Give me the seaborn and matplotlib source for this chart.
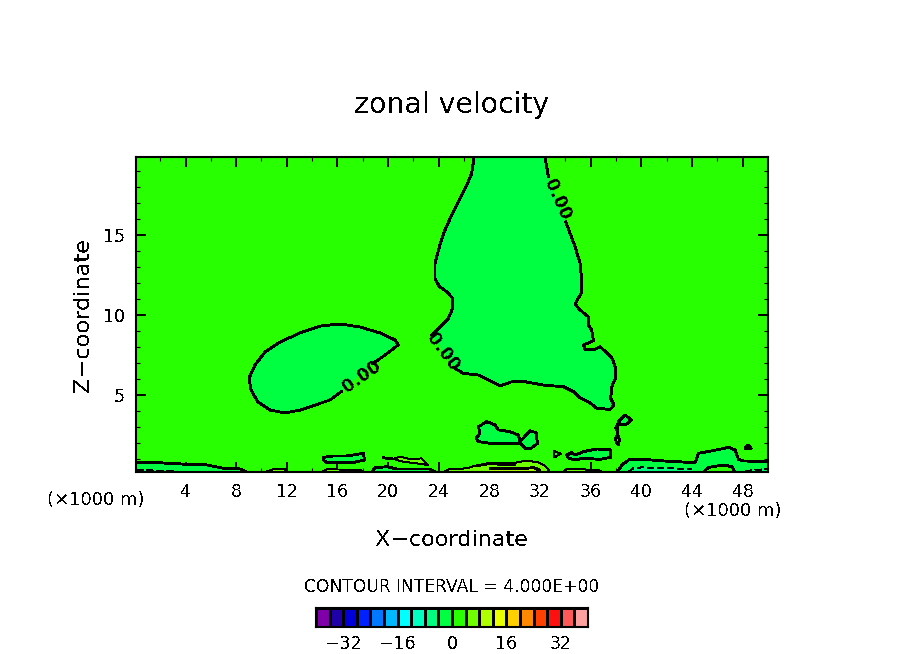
import matplotlib
matplotlib.use('Agg')
import matplotlib.pyplot as plt
from matplotlib.colors import ListedColormap
import numpy as np
import seaborn as sns

sns.set_style('white')
plt.rcParams['font.family'] = ['DejaVu Sans']
plt.rcParams['axes.unicode_minus'] = True
plt.rcParams['text.antialiased'] = False
plt.rcParams['text.color'] = 'black'
plt.rcParams['xtick.color'] = 'black'
plt.rcParams['ytick.color'] = 'black'

# colour scale, one colour per 4 m/s interval
bar_levels = [-38, -34, -30, -26, -22, -18, -14, -10, -6, -2, 2, 6, 10, 14, 18, 22, 26, 30, 34, 38]
bar_colors = ['#7f00a8', '#2000a8', '#0000d8', '#0020ff', '#0078ff', '#00b8ff', '#00ffff',
              '#00ffc0', '#00ff80', '#00ff40', '#28ff00', '#70ff00', '#b0ff00', '#e8ff00',
              '#ffd000', '#ff8800', '#ff4000', '#ff1010', '#ff5858', '#ffa0a0']
bar_ticks = [-32, -16, 0, 16, 32]

x_major = [4, 8, 12, 16, 20, 24, 28, 32, 36, 40, 44, 48]
x_minor = [2, 6, 10, 14, 18, 22, 26, 30, 34, 38, 42, 46]
z_major = [5, 10, 15]
z_minor = [1, 2, 3, 4, 6, 7, 8, 9, 11, 12, 13, 14, 16, 17, 18, 19]

# big zero contour, three pieces split by the labels
big_a_x = [26.79, 26.60, 26.21, 25.63, 25.02, 24.49, 24.05, 23.70, 23.70, 24.05, 24.63, 25.10, 25.10, 24.76, 24.23, 23.44]
big_a_z = [19.875, 18.85, 18.12, 17.19, 16.25, 15.31, 14.27, 13.23, 12.29, 11.77, 11.46, 11.04, 10.42, 9.79, 9.37, 8.75]
big_b_x = [25.28, 25.94, 27.13, 27.92, 28.84, 29.76, 30.81, 32.26, 33.84, 34.63, 35.16, 35.82, 36.47, 37.53, 37.84, 37.58,
           37.66, 38.00, 37.92, 37.66, 36.74, 36.21, 35.55, 35.42, 36.21, 36.08, 35.82, 35.82, 35.16, 34.76, 35.24, 35.29,
           35.16, 34.76, 34.37, 34.03]
big_b_z = [6.67, 6.35, 6.25, 5.94, 5.58, 5.83, 5.83, 5.62, 5.52, 5.21, 4.83, 4.58, 4.17, 4.10, 4.37, 4.79,
           5.52, 6.15, 6.77, 7.35, 8.02, 7.81, 7.87, 8.12, 8.40, 9.06, 9.37, 9.89, 10.31, 10.69, 11.35, 12.19,
           13.23, 14.27, 15.10, 15.83]
big_c_x = [32.66, 32.39]
big_c_z = [18.64, 19.875]

# blob at x=9..21, open where its label sits
blob_x = [16.36, 15.41, 13.04, 11.86, 10.67, 9.73, 9.17, 9.02, 9.49, 10.28, 11.46, 13.04, 14.62, 16.20, 17.78, 19.36, 20.55, 20.79, 19.76, 18.73]
blob_z = [5.25, 4.69, 4.06, 3.88, 4.06, 4.56, 5.31, 6.06, 6.88, 7.69, 8.31, 8.88, 9.31, 9.44, 9.25, 8.88, 8.44, 8.13, 7.50, 6.94]

# closed negative patches
patch1_x = [14.89, 15.68, 16.73, 18.05, 18.13, 17.26, 15.95, 15.15, 14.89]
patch1_z = [1.11, 1.19, 1.19, 1.36, 0.94, 0.79, 0.77, 0.77, 0.94]
patch2_x = [27.13, 27.79, 28.44, 28.71, 29.63, 30.29, 30.42, 31.21, 31.68, 31.79, 31.21, 30.81, 30.42, 29.37, 28.05, 27.13, 26.94, 27.26]
patch2_z = [3.02, 3.34, 3.13, 2.82, 2.71, 2.50, 2.09, 2.77, 2.65, 1.98, 1.63, 1.67, 1.98, 1.98, 1.98, 2.09, 2.29, 2.61]
patch3_x = [34.11, 34.50, 34.76, 35.42, 36.48, 37.53, 37.58, 36.74, 35.42, 34.76, 34.24]
patch3_z = [1.25, 1.40, 1.25, 1.46, 1.63, 1.57, 1.11, 0.98, 1.05, 0.94, 1.05]
patch4_x = [38.19, 38.71, 39.24, 38.84, 38.37]
patch4_z = [3.34, 3.75, 3.44, 3.19, 3.13]
patch5_x = [37.98, 38.13, 38.27, 38.19, 38.00]
patch5_z = [2.29, 2.54, 2.23, 1.88, 2.09]
speck1_x = [37.98, 38.13, 38.13]
speck1_z = [2.92, 3.19, 2.67]
speck2_x = [48.19, 48.40, 48.67]
speck2_z = [1.67, 1.88, 1.67]

# negative areas resting on the ground
ground_l_x = [0.09, 1.46, 2.78, 4.10, 5.68, 6.99, 8.31, 8.78]
ground_l_z = [0.79, 0.79, 0.73, 0.67, 0.63, 0.42, 0.38, 0.19]
ground_m_x = [18.70, 18.96, 19.89, 20.68, 23.31, 23.70]
ground_m_z = [0.19, 0.46, 0.52, 0.38, 0.38, 0.19]
ground_r_x = [38.13, 38.45, 39.11, 40.16, 41.74, 44.24, 44.51, 45.95, 46.88, 47.40, 47.67, 48.06, 50.00]
ground_r_z = [0.19, 0.63, 1.00, 0.98, 0.88, 0.77, 1.36, 1.57, 1.73, 1.57, 0.98, 0.88, 0.84]
ground_in_x = [44.90, 45.30, 46.50, 47.14, 47.40]
ground_in_z = [0.19, 0.48, 0.63, 0.52, 0.19]

# dashed -4 contours
dash_l_x = [0.15, 3.04]
dash_l_z = [0.31, 0.25]
dash_m_x = [38.98, 39.37, 40.03, 43.98]
dash_m_z = [0.21, 0.42, 0.48, 0.38]
dash_r_x = [48.19, 49.90]
dash_r_z = [0.25, 0.38]

# positive patches, thin outlines
pos1_x = [10.28, 10.94, 11.86, 11.99]
pos1_z = [0.19, 0.36, 0.36, 0.19]
pos2_x = [14.76, 15.15, 17.79, 18.05]
pos2_z = [0.19, 0.36, 0.32, 0.19]
pos3_x = [20.41, 20.94, 21.20, 21.73, 22.65, 23.18, 22.26, 21.20]
pos3_z = [1.00, 1.15, 1.10, 1.00, 1.04, 0.62, 0.73, 0.83]
pos4_x = [24.36, 24.76, 26.20, 26.86, 27.79, 29.89, 30.68, 31.73, 32.39, 32.79]
pos4_z = [0.19, 0.35, 0.42, 0.58, 0.73, 0.73, 0.88, 0.83, 0.58, 0.19]
pos5_x = [28.05, 28.05, 30.94, 32.00, 32.00]
pos5_z = [0.19, 0.46, 0.46, 0.30, 0.19]
pos6_x = [33.80, 34.10, 35.30, 36.60, 37.00]
pos6_z = [0.19, 0.36, 0.36, 0.30, 0.19]
tri_x = [33.13, 33.63, 33.13]
tri_z = [1.50, 1.32, 1.11]
tail_x = [19.62, 20.41]
tail_z = [1.08, 1.00]
band_a_x = [27.10, 27.90, 30.00]
band_a_z = [0.60, 0.70, 0.66]
band_b_x = [28.05, 30.50, 31.50, 32.00]
band_b_z = [0.40, 0.40, 0.46, 0.30]

c_zero = '#28ff00'
c_m4 = '#00ff40'
c_m8 = '#00ff80'
c_p4 = '#70ff00'
c_p8 = '#b0ff00'

fig = plt.figure(figsize=(9.04, 6.54), dpi=100)
ax = fig.add_axes([136 / 904, 1 - 472 / 654, 632 / 904, 315 / 654])
ax.set_facecolor(c_zero)


def line(xs, zs, lw=1.35, ls='-', closed=False):
    xs, zs = list(xs), list(zs)
    if closed:
        xs, zs = xs + xs[:1], zs + zs[:1]
    sns.lineplot(x=xs, y=zs, sort=False, estimator=None, errorbar=None, color='black',
                 linewidth=lw, linestyle=ls, antialiased=False, ax=ax, legend=False)


# filled bands first
ax.fill(big_a_x + big_b_x + big_c_x, big_a_z + big_b_z + big_c_z, color=c_m4, lw=0)
ax.fill(blob_x, blob_z, color=c_m4, lw=0)
for px, pz in [(patch1_x, patch1_z), (patch2_x, patch2_z), (patch3_x, patch3_z), (patch4_x, patch4_z),
               (patch5_x, patch5_z), (ground_l_x + [0.09], ground_l_z + [0.19]), (ground_m_x, ground_m_z),
               (ground_r_x + [50.0], ground_r_z + [0.19])]:
    ax.fill(px, pz, color=c_m4, lw=0)
ax.fill(ground_in_x, ground_in_z, color=c_zero, lw=0)
ax.fill(dash_l_x + [3.04, 0.15], dash_l_z + [0.19, 0.19], color=c_m8, lw=0)
ax.fill(dash_m_x + [43.98], dash_m_z + [0.19], color=c_m8, lw=0)
ax.fill(dash_r_x + [49.90, 48.19], dash_r_z + [0.19, 0.19], color=c_m8, lw=0)
for px, pz in [(pos1_x, pos1_z), (pos2_x, pos2_z), (pos3_x, pos3_z), (pos4_x, pos4_z), (pos6_x, pos6_z)]:
    ax.fill(px, pz, color=c_p4, lw=0)
ax.fill(pos5_x, pos5_z, color=c_p8, lw=0)

# contour lines
line(big_a_x, big_a_z)
line(big_b_x, big_b_z)
line(big_c_x, big_c_z)
line(blob_x, blob_z)
for px, pz in [(patch1_x, patch1_z), (patch2_x, patch2_z), (patch3_x, patch3_z), (patch4_x, patch4_z),
               (patch5_x, patch5_z), (speck1_x, speck1_z), (speck2_x, speck2_z)]:
    line(px, pz, closed=True)
ax.fill(speck1_x, speck1_z, color='black', lw=0)
ax.fill(speck2_x, speck2_z, color='black', lw=0)
line(ground_l_x, ground_l_z)
line(ground_m_x, ground_m_z)
line(ground_r_x, ground_r_z)
line(ground_in_x, ground_in_z)
line(tail_x, tail_z)
line(band_a_x, band_a_z)
line(band_b_x, band_b_z)
for dx, dz in [(dash_l_x, dash_l_z), (dash_m_x, dash_m_z), (dash_r_x, dash_r_z)]:
    line(dx, dz, lw=0.8, ls=(0, (6, 3)))
for px, pz in [(pos1_x, pos1_z), (pos2_x, pos2_z), (pos4_x, pos4_z), (pos6_x, pos6_z)]:
    line(px, pz, lw=0.7)
line(pos3_x, pos3_z, lw=0.7, closed=True)
line(tri_x, tri_z, lw=0.8, closed=True)

# contour labels
label_font = dict(ha='center', va='center', fontsize=12.5, fontweight='bold', rotation_mode='anchor')
ax.text(33.37, 17.2, '0.00', rotation=-66, **label_font)
ax.text(24.36, 7.71, '0.00', rotation=-53, **label_font)
ax.text(17.94, 6.17, '0.00', rotation=35, **label_font)

ax.set_xlim(0.09, 50.0)
ax.set_ylim(0.19, 19.875)
ax.set_xticks(x_major)
ax.set_xticks(x_minor, minor=True)
ax.set_yticks(z_major)
ax.set_yticks(z_minor, minor=True)
ax.tick_params(which='major', direction='in', top=True, right=True, bottom=True, left=True,
               length=7, width=1.4, labelsize=12.5, pad=8)
ax.tick_params(which='minor', direction='in', top=True, right=True, bottom=True, left=True,
               length=3, width=0.8)
ax.set_xlabel('')
ax.set_ylabel('')
for sp in ax.spines.values():
    sp.set_visible(True)
    sp.set_color('black')
    sp.set_linewidth(1.5)

# text outside the axes, placed in figure pixels
fig.text(452 / 904, 1 - 105 / 654, 'zonal velocity', ha='center', va='center', fontsize=20.4)
fig.text(452 / 904, 1 - 540 / 654, 'X\u2212coordinate', ha='center', va='center', fontsize=16)
fig.text(83 / 904, 1 - 315 / 654, 'Z\u2212coordinate', ha='center', va='center', rotation=90, fontsize=16.2)
fig.text(96 / 904, 1 - 500 / 654, '(\u00d71000 m)', ha='center', va='center', fontsize=13)
fig.text(733 / 904, 1 - 511 / 654, '(\u00d71000 m)', ha='center', va='center', fontsize=13)
fig.text(452 / 904, 1 - 587 / 654, 'CONTOUR INTERVAL = 4.000E+00', ha='center', va='center', fontsize=12.3)

# colour bar as a one row heatmap
cax = fig.add_axes([316 / 904, 1 - 627 / 654, 272 / 904, 19 / 654])
sns.heatmap(np.array([bar_levels]), cmap=ListedColormap(bar_colors), vmin=-40, vmax=40, cbar=False,
            linewidths=1.0, linecolor='black', ax=cax)
cax.set_xticks([(t + 40) / 4 for t in bar_ticks])
cax.set_xticklabels([str(t).replace('-', '\u2212') for t in bar_ticks], rotation=0, fontsize=12.5)
cax.set_yticks([])
cax.tick_params(axis='x', length=0, pad=6)
for sp in cax.spines.values():
    sp.set_visible(True)
    sp.set_color('black')
    sp.set_linewidth(1.5)

fig.savefig('out.png', dpi=100)
